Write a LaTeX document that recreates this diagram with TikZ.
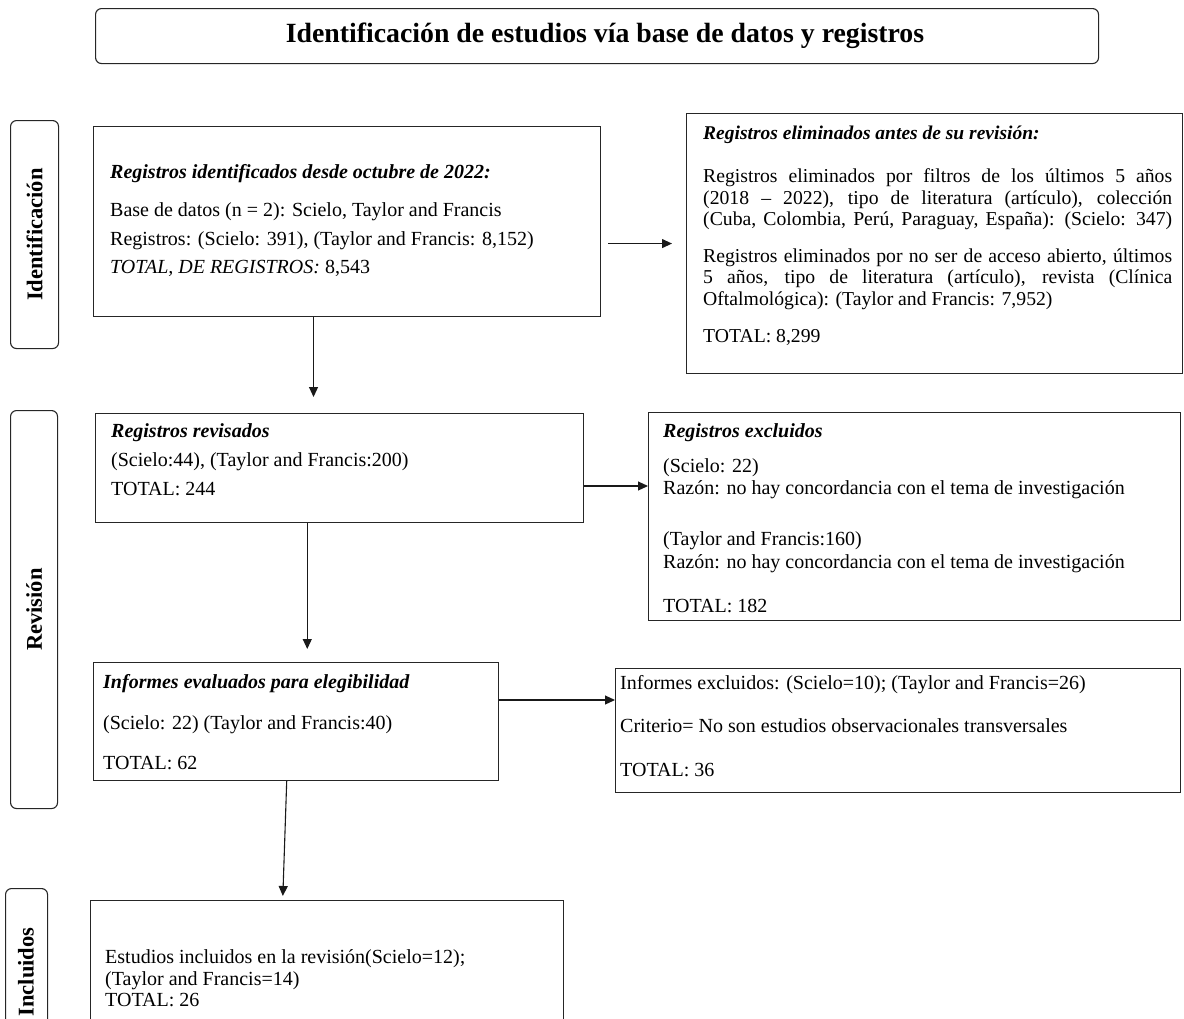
\documentclass[tikz,border=0pt]{standalone}
\usepackage{fontspec}
\setmainfont{Liberation Serif}
\usetikzlibrary{arrows.meta,calc}
\begin{document}
\begin{tikzpicture}[x=1pt,y=-1pt,
 box/.style={draw=black!85, line width=1.1pt, rectangle, inner sep=0pt, anchor=north west},
 lab/.style={draw=black!85, line width=1.1pt, rounded corners=6pt, inner sep=0pt, anchor=north west},
 txt/.style={anchor=base west, inner sep=0pt, font=\fontsize{#1}{#1}\selectfont},
 txt/.default=20,
 hd/.style={anchor=base west, inner sep=0pt, font=\fontsize{#1}{#1}\selectfont\bfseries\itshape},
 hd/.default=20,
 side/.style={rotate=90, font=\fontsize{22.5}{24}\selectfont\bfseries, inner sep=0pt},
 arr/.style={-{Triangle[length=10pt,width=9pt]}, line width=1.1pt, black!90},
]
\path[use as bounding box, clip] (0,0) rectangle (1184,1018);

% title
\node[lab, minimum width=1003pt, minimum height=55pt] (title) at (95,8) {};
\node[font=\fontsize{27.8}{30}\selectfont\bfseries, inner sep=0pt] (titletext) at (605,36)
  {Identificación de estudios vía base de datos y registros};

% side labels
\node[lab, minimum width=48pt, minimum height=228pt] (l1) at (10,120) {};
\node[side] (l1t) at (l1.center) {Identificación};
\node[lab, minimum width=47pt, minimum height=398pt] (l2) at (10,410) {};
\node[side] (l2t) at (l2.center) {Revisión};
\node[lab, minimum width=42pt, minimum height=160pt] (l3) at (5,888) {};
\node[side] (l3t) at (26,972) {Incluidos};

% boxes
\node[box, minimum width=507pt, minimum height=190pt] (b1) at (93,126) {};
\node[box, minimum width=496pt, minimum height=260pt] (elim) at (686,113) {};
\node[box, minimum width=488pt, minimum height=109pt] (b2) at (95,413) {};
\node[box, minimum width=532pt, minimum height=208pt] (b3) at (648,412) {};
\node[box, minimum width=405pt, minimum height=118pt] (b4) at (93,662) {};
\node[box, minimum width=565pt, minimum height=124pt] (b5) at (615,668) {};
\node[box, minimum width=473pt, minimum height=160pt] (b6) at (90,900) {};

% box 1 text
\node[hd] (t11) at (110,178) {Registros identificados desde octubre de 2022:};
\node[txt] (t12) at (110,216) {Base de datos (n = 2): Scielo, Taylor and Francis};
\node[txt] (t13) at (110,245) {Registros: (Scielo: 391), (Taylor and Francis: 8,152)};
\node[txt] (t14) at (110,273) {\textit{TOTAL, DE REGISTROS:} 8,543};

% eliminated text
\node[hd=19.5] (e1) at (703,139) {Registros eliminados antes de su revisión:};
\node[txt=19.7] (e2) at (703,182) {\makebox[469pt][s]{Registros eliminados por filtros de los últimos 5 años}};
\node[txt=19.7] (e3) at (703,204) {\makebox[469pt][s]{(2018 – 2022), tipo de literatura (artículo), colección}};
\node[txt=19.7] (e4) at (703,225) {\makebox[469pt][s]{(Cuba, Colombia, Perú, Paraguay, España): (Scielo: 347)}};
\node[txt=19.7] (e5) at (703,262) {\makebox[469pt][s]{Registros eliminados por no ser de acceso abierto, últimos}};
\node[txt=19.7] (e6) at (703,283) {\makebox[469pt][s]{5 años, tipo de literatura (artículo), revista (Clínica}};
\node[txt=19.7] (e7) at (703,305) {Oftalmológica): (Taylor and Francis: 7,952)};
\node[txt=19.7] (e8) at (703,342) {TOTAL: 8,299};

% box 2 text
\node[hd] (t21) at (111,437) {Registros revisados};
\node[txt] (t22) at (111,466) {(Scielo:44), (Taylor and Francis:200)};
\node[txt] (t23) at (111,495) {TOTAL: 244};

% box 3 text
\node[hd] (t31) at (663,437) {Registros excluidos};
\node[txt] (t32) at (663,472) {(Scielo: 22)};
\node[txt] (t33) at (663,494) {Razón: no hay concordancia con el tema de investigación};
\node[txt] (t34) at (663,545) {(Taylor and Francis:160)};
\node[txt] (t35) at (663,568) {Razón: no hay concordancia con el tema de investigación};
\node[txt] (t36) at (663,612) {TOTAL: 182};

% box 4 text
\node[hd] (t41) at (103,688) {Informes evaluados para elegibilidad};
\node[txt] (t42) at (103,729) {(Scielo: 22) (Taylor and Francis:40)};
\node[txt] (t43) at (103,769) {TOTAL: 62};

% box 5 text
\node[txt] (t51) at (620,689) {Informes excluidos: (Scielo=10); (Taylor and Francis=26)};
\node[txt] (t52) at (620,732) {Criterio= No son estudios observacionales transversales};
\node[txt] (t53) at (620,776) {TOTAL: 36};

% box 6 text
\node[txt] (t61) at (105,963) {Estudios incluidos en la revisión(Scielo=12);};
\node[txt] (t62) at (105,985) {(Taylor and Francis=14)};
\node[txt] (t63) at (105,1006) {TOTAL: 26};

% connectors
\draw[arr, shorten <=7pt, shorten >=14pt] (b1.east |- elim.west) -- (elim.west);
\coordinate (s2) at ($(b1.south west)!0.434!(b1.south east)$);
\draw[arr, shorten >=16pt] (s2) -- (s2 |- b2.north);
\coordinate (s3) at ([yshift=-73pt]b2.north east);
\draw[arr] (s3) -- (s3 -| b3.west);
\coordinate (s4) at ($(b2.south west)!0.434!(b2.south east)$);
\draw[arr, shorten >=13pt] (s4) -- (s4 |- b4.north);
\coordinate (s5) at ([yshift=-38pt]b4.north east);
\draw[arr] (s5) -- (s5 -| b5.west);
\coordinate (s6) at ($(b4.south west)!0.477!(b4.south east)$);
\draw[arr, shorten >=4pt] (s6) -- ([xshift=-4pt]s6 |- b6.north);
\end{tikzpicture}
\end{document}
